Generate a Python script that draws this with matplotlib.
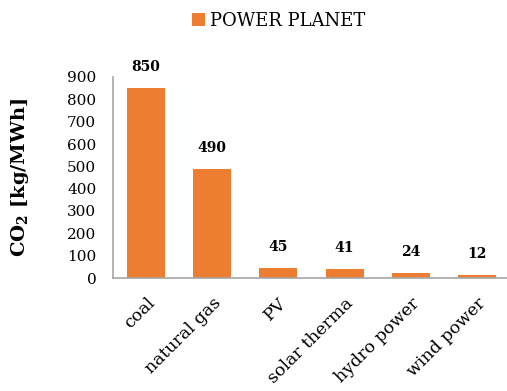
import matplotlib
matplotlib.use('Agg')
import matplotlib.pyplot as plt

# Data
categories = ['coal', 'natural gas', 'PV', 'solar therma', 'hydro power', 'wind power']
co2_values = [850, 490, 45, 41, 24, 12]
series_name = 'POWER PLANET'
y_ticks = list(range(0, 1000, 100))

BAR_COLOR = '#ED7D31'
SPINE_COLOR = '#A6A6A6'

plt.rcParams.update({
    'font.family': ['DejaVu Serif'],
    'mathtext.fontset': 'dejavuserif',
})

fig = plt.figure(figsize=(5.07, 3.91), dpi=100)
ax = fig.add_axes([113 / 507, 113 / 391, 397 / 507, 201 / 391])

x = range(len(categories))
bars = ax.bar(x, co2_values, width=0.575, color=BAR_COLOR, label=series_name)

for xi, v in zip(x, co2_values):
    ax.annotate(f'{v}', xy=(xi, v), xytext=(0, 15), textcoords='offset points',
                ha='center', va='center', fontsize=10, fontweight='bold')

ax.set_xlim(-0.5, len(categories) - 0.5)
ax.set_ylim(0, 900)
ax.set_yticks(y_ticks)
ax.set_yticklabels([str(t) for t in y_ticks], fontsize=11)
ax.set_xticks(list(x))
ax.set_xticklabels(categories, rotation=45, ha='right', rotation_mode='anchor', fontsize=12.5)
ax.tick_params(length=0)
ax.tick_params(axis='x', pad=12)
ax.tick_params(axis='y', pad=12)

for side in ['top', 'right']:
    ax.spines[side].set_visible(False)
for side in ['left', 'bottom']:
    ax.spines[side].set_color(SPINE_COLOR)
    ax.spines[side].set_linewidth(1.2)

ax.set_ylabel(r'CO$_\mathbf{2}$ [kg/MWh]', fontsize=14, fontweight='bold', labelpad=26)

fig.legend(handles=[bars], labels=[series_name], loc='center', bbox_to_anchor=(279 / 507, 1 - 21 / 391),
           frameon=False, fontsize=13, handlelength=0.7, handleheight=0.7, handletextpad=0.3)

fig.savefig('out.png', dpi=100)
